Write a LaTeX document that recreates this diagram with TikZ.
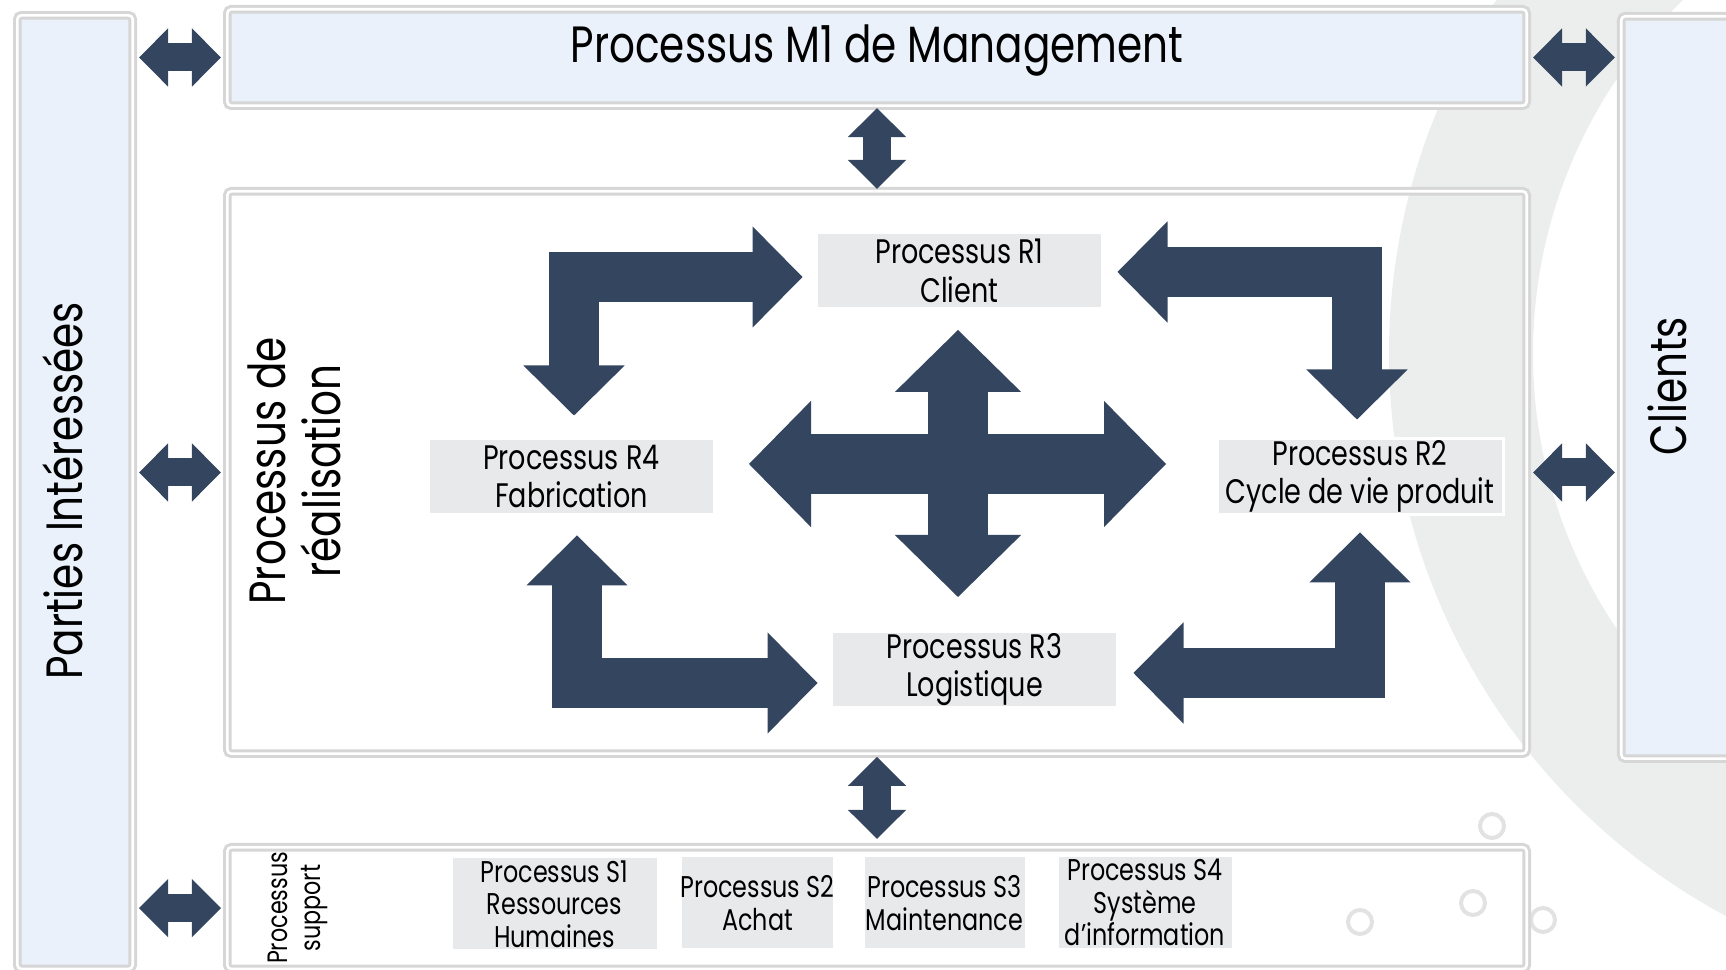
\documentclass[tikz,border=0pt]{standalone}
\usepackage{fontspec}
\setmainfont{Poppins}[FakeStretch=0.795]
\usetikzlibrary{arrows.meta, calc}

\definecolor{arrowblue}{HTML}{34465F}
\definecolor{framegrey}{HTML}{D6D6D6}
\definecolor{paleblue}{HTML}{EAF1FA}
\definecolor{boxgrey}{HTML}{E8E9EA}
\definecolor{ringgrey}{HTML}{ECEDED}
\definecolor{dotgrey}{HTML}{E2E2E2}

\begin{document}
\begin{tikzpicture}[x=0.25pt, y=-0.25pt]
  \tikzstyle{dblframe}=[draw=framegrey, line width=0.75pt, double=white, double distance=0.65pt, rounded corners=1pt, inner sep=0pt, outer sep=0pt]
  \tikzstyle{bluebox}=[dblframe, fill=paleblue]
  \tikzstyle{procbox}=[fill=boxgrey, draw=white, line width=0.75pt, align=center, inner sep=0pt, outer sep=0pt, minimum width=71.5pt, minimum height=19pt, font=\fontsize{8.5}{9.6}\selectfont]
  \tikzstyle{supbox}=[procbox, minimum height=23.5pt, font=\fontsize{7.5}{8.1}\selectfont]
  \tikzstyle{bigtext}=[font=\fontsize{12.75}{13.75}\selectfont]
  \tikzstyle{dblarrow}=[draw=arrowblue, line width=7pt, >={Triangle[length=7.25pt, width=14.5pt, line width=0.4pt]}, <->, shorten <=1.6pt, shorten >=1.6pt]
  \tikzstyle{bentarrow}=[draw=arrowblue, line width=12.4pt, line join=miter, >={Triangle[length=12.5pt, width=25.25pt, line width=0.4pt]}, <->]
  \tikzstyle{crossarrow}=[draw=arrowblue, line width=15pt, >={Triangle[length=15.5pt, width=31.5pt, line width=0.4pt]}, <->]

  \useasboundingbox (0,0) rectangle (1726,970);

  % background decoration
  \fill[ringgrey, even odd rule] (2026,354) circle[radius=159.25pt] (2026,354) circle[radius=123.25pt];
  \foreach \cx/\cy in {1492/826, 1473/903, 1360/922, 1543/920}
    \draw[dotgrey, line width=1pt] (\cx,\cy) circle[radius=3pt];

  % frames
  \node[bluebox, minimum width=28.85pt, minimum height=238.4pt] (parties) at (75,492.15) {};
  \node[bluebox, minimum width=324.85pt, minimum height=24.1pt] (m1) at (877,57.5) {};
  \node[bluebox, minimum width=39.7pt, minimum height=185.6pt] (clients) at (1700.65,387.5) {};
  \node[dblframe, minimum width=324.85pt, minimum height=140.6pt] (real) at (877,472.5) {};
  \node[dblframe, minimum width=324.85pt, minimum height=30.43pt] (support) at (877,908.15) {};

  \node[bigtext, anchor=base] (m1txt) at (877,63) {Processus M1 de Management};
  \node[bigtext, rotate=90] (partiestxt) at (63,491) {Parties Intéressées};
  \node[bigtext, rotate=90] (clientstxt) at (1667,386) {Clients};
  \node[bigtext, rotate=90, align=center] (realtxt) at (294,471) {Processus de\\réalisation};
  \node[rotate=90, align=center, font=\fontsize{7}{8.25}\selectfont] (suptxt) at (298,908) {Processus\\support};

  % realisation processes
  \node[procbox] (r1) at (959.5,271) {Processus R1\\Client};
  \node[procbox] (r4) at (571.5,476.5) {Processus R4\\Fabrication};
  \node[procbox] (r2) at (1360,476.5) {Processus R2\\Cycle de vie produit};
  \node[procbox] (r3) at (974.5,669.5) {Processus R3\\Logistique};

  % support processes
  \node[supbox, minimum width=51.75pt] (s1) at (554.5,904) {Processus S1\\Ressources\\Humaines};
  \node[supbox, minimum width=38.25pt] (s2) at (757.5,903) {Processus S2\\Achat};
  \node[supbox, minimum width=40.75pt] (s3) at (944.5,903) {Processus S3\\Maintenance};
  \node[supbox, minimum width=44pt] (s4) at (1145,902.5) {Processus S4\\Système\\d’information};

  % links between frames
  \draw[dblarrow] (parties.east |- m1.west) -- (m1.west);
  \draw[dblarrow] (m1.east) -- (m1.east -| clients.west);
  \draw[dblarrow] (parties.east |- real.west) -- (real.west);
  \draw[dblarrow] (real.east) -- (real.east -| clients.west);
  \draw[dblarrow] (parties.east |- support.west) -- (support.west);
  \draw[dblarrow, shorten <=0.6pt, shorten >=0.6pt] (m1.south) -- (real.north);
  \draw[dblarrow, shorten <=0.8pt, shorten >=2.1pt] (real.south) -- (support.north);

  % links between processes
  \draw[bentarrow] ($(r4.north)+(2.5,-23)$) |- ($(r1.west)+(-14,6)$);
  \draw[bentarrow] ($(r1.east)+(15,1)$) -| ($(r2.north)+(-3,-19)$);
  \draw[bentarrow] ($(r4.south)+(5.5,21)$) |- ($(r3.west)+(-14,13.5)$);
  \draw[bentarrow] ($(r3.east)+(16,3.5)$) -| ($(r2.south)+(0,18)$);

  \coordinate (hub) at (958,464);
  \draw[crossarrow] ($(hub)+(-209,0)$) -- ($(hub)+(208,0)$);
  \draw[crossarrow] ($(hub)+(0,-134)$) -- ($(hub)+(0,133)$);
\end{tikzpicture}
\end{document}
